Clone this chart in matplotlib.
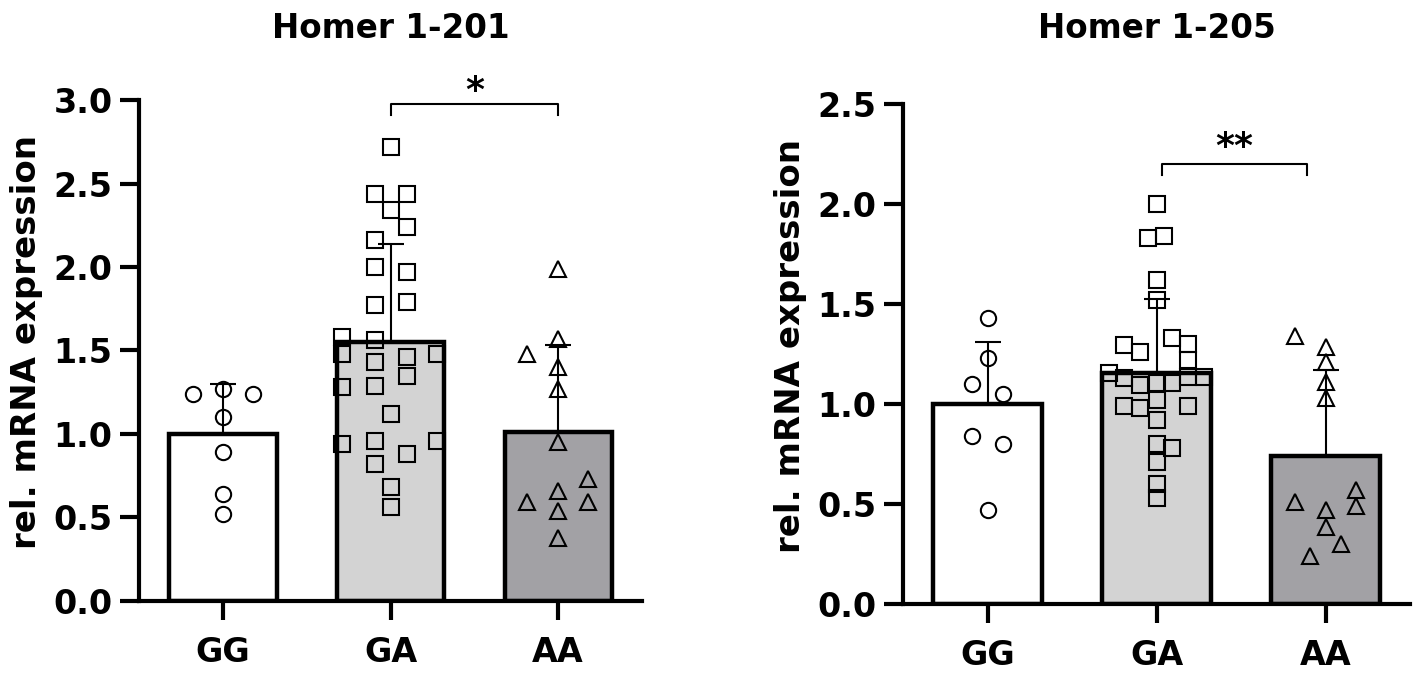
import matplotlib
matplotlib.use("Agg")
import matplotlib.pyplot as plt
from matplotlib.ticker import FormatStrFormatter

plt.rcParams['font.family'] = ['DejaVu Sans']
plt.rcParams['font.weight'] = 'bold'

groups = ["GG", "GA", "AA"]
bar_colors = ["white", "#d3d3d3", "#a2a1a5"]
markers = ["o", "s", "^"]

# Homer 1-201
mean_201 = [1.0, 1.55, 1.01]
sd_201 = [0.30, 0.59, 0.52]
gg_201 = [1.27, 1.24, 1.24, 1.10, 0.89, 0.64, 0.52]
gg_201_dx = [0, -0.18, 0.18, 0, 0, 0, 0]
ga_201 = [2.72, 2.44, 2.44, 2.34, 2.24, 2.16, 2.00, 1.97, 1.77, 1.79,
          1.58, 1.56, 1.48, 1.46, 1.48, 1.43, 1.35, 1.28, 1.29, 1.12,
          0.94, 0.96, 0.88, 0.96, 0.82, 0.68, 0.56]
ga_201_dx = [0, -0.095, 0.1, 0, 0.1, -0.095, -0.095, 0.1, -0.095, 0.1,
             -0.29, -0.095, -0.29, 0.1, 0.28, -0.095, 0.1, -0.29, -0.095, 0,
             -0.29, -0.095, 0.1, 0.28, -0.095, 0, 0]
aa_201 = [1.99, 1.57, 1.48, 1.40, 1.27, 0.95, 0.73, 0.66, 0.59, 0.59, 0.54, 0.38]
aa_201_dx = [0, 0, -0.185, 0, 0, 0, 0.18, 0, -0.185, 0.18, 0, 0]

# Homer 1-205
mean_205 = [1.0, 1.155, 0.74]
sd_205 = [0.31, 0.37, 0.43]
gg_205 = [1.43, 1.23, 1.10, 1.05, 0.84, 0.80, 0.47]
gg_205_dx = [0, 0, -0.09, 0.09, -0.09, 0.09, 0]
ga_205 = [2.00, 1.83, 1.84, 1.62, 1.52, 1.295, 1.26, 1.33, 1.30, 1.22,
          1.157, 1.128, 1.095, 1.103, 1.107, 1.133, 1.133, 1.02, 0.99, 0.98,
          0.99, 0.92, 0.80, 0.78, 0.71, 0.60, 0.53]
ga_205_dx = [0, -0.05, 0.047, 0, 0, -0.19, -0.098, 0.092, 0.186, 0.186,
             -0.28, -0.19, -0.098, 0, 0.092, 0.186, 0.28, 0, -0.19, -0.098,
             0.186, 0, 0, 0.092, 0, 0, 0]
aa_205 = [1.34, 1.285, 1.21, 1.11, 1.03, 0.57, 0.51, 0.47, 0.49, 0.385, 0.30, 0.24]
aa_205_dx = [-0.18, 0, 0, 0, 0, 0.18, -0.18, 0, 0.18, 0, 0.09, -0.09]

panels = [
    dict(title="Homer 1-201", means=mean_201, sds=sd_201,
         pts=[(gg_201, gg_201_dx), (ga_201, ga_201_dx), (aa_201, aa_201_dx)],
         ymax=3.0, br_x=(1.0, 2.0), br_y=2.976, br_drop=0.066, star="*",
         star_off=2, rect=[0.0981, 0.1070, 0.3550, 0.7444]),
    dict(title="Homer 1-205", means=mean_205, sds=sd_205,
         pts=[(gg_205, gg_205_dx), (ga_205, ga_205_dx), (aa_205, aa_205_dx)],
         ymax=2.5, br_x=(1.03, 1.89), br_y=2.2, br_drop=0.055, star="**",
         star_off=5, rect=[0.6373, 0.1025, 0.3578, 0.7429]),
]

fig = plt.figure(figsize=(14.17, 6.73), dpi=100)

for p in panels:
    ax = fig.add_axes(p["rect"])
    x = list(range(len(groups)))

    # error bars (upper side only), drawn under the bars
    ax.errorbar(x, p["means"], yerr=[[0] * 3, p["sds"]], fmt="none",
                ecolor="black", elinewidth=1.5, capsize=9.7, capthick=1.5,
                zorder=1)
    ax.bar(x, p["means"], width=0.64, color=bar_colors, edgecolor="black",
           linewidth=3.2, zorder=2)

    for i, (vals, dx) in enumerate(p["pts"]):
        xs = [i + d for d in dx]
        ax.plot(xs, vals, linestyle="none", marker=markers[i], markersize=11,
                markerfacecolor="none", markeredgecolor="black",
                markeredgewidth=1.5, zorder=3, clip_on=False)

    # significance bracket
    x1, x2 = p["br_x"]
    y = p["br_y"]
    ax.plot([x1, x1, x2, x2], [y - p["br_drop"], y, y, y - p["br_drop"]],
            color="black", lw=1.5, clip_on=False)
    ax.annotate(p["star"], xy=((x1 + x2) / 2, y), xytext=(0, p["star_off"]),
                textcoords="offset points", ha="center", va="baseline",
                fontsize=26, fontweight="bold", annotation_clip=False)

    ax.set_xlim(-0.5, 2.5)
    ax.set_ylim(0, p["ymax"])
    ax.set_yticks([v * 0.5 for v in range(int(p["ymax"] / 0.5) + 1)])
    ax.yaxis.set_major_formatter(FormatStrFormatter("%.1f"))
    ax.set_xticks(x)
    ax.set_xticklabels(groups)

    for s in ["top", "right"]:
        ax.spines[s].set_visible(False)
    for s in ["left", "bottom"]:
        ax.spines[s].set_linewidth(3)

    ax.tick_params(axis="both", width=3, length=14, labelsize=24)
    ax.tick_params(axis="y", pad=5)
    ax.tick_params(axis="x", pad=11)

    ax.set_ylabel("rel. mRNA expression", fontsize=24.5, fontweight="bold")
    ax.yaxis.set_label_coords(-0.19, 0.517)

    cx = p["rect"][0] + p["rect"][2] / 2
    fig.text(cx, 0.9435, p["title"], ha="center", va="baseline",
             fontsize=23.5, fontweight="bold")

fig.savefig("out.png", dpi=100, facecolor="white")
